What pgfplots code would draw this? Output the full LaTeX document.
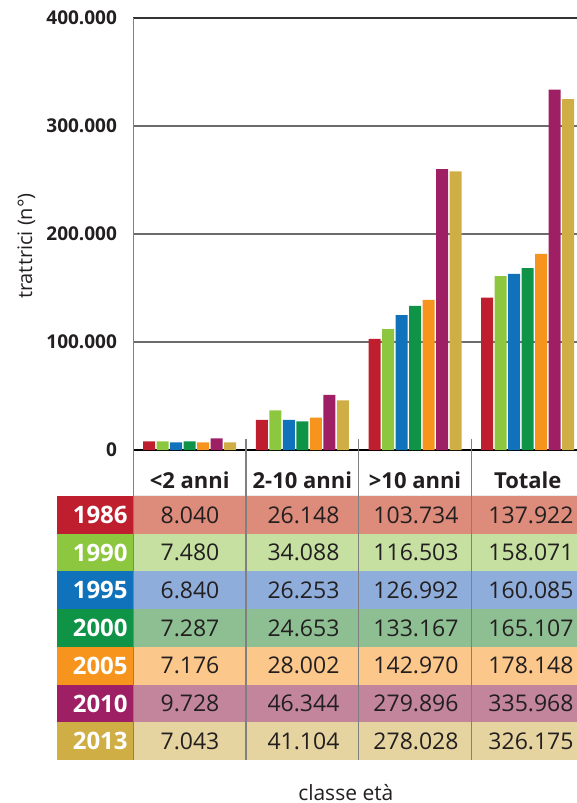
\documentclass[border=0pt]{standalone}
\usepackage{pgfplots}
\pgfplotsset{compat=1.18}
\usepackage{fontspec}
\setmainfont{Open Sans}
\definecolor{c86}{HTML}{BE1E2D}
\definecolor{c90}{HTML}{8DC63F}
\definecolor{c95}{HTML}{1072BA}
\definecolor{c00}{HTML}{0E9347}
\definecolor{c05}{HTML}{F7941D}
\definecolor{c10}{HTML}{9E1F63}
\definecolor{c13}{HTML}{CFAE45}
\definecolor{l86}{HTML}{DD8B7A}
\definecolor{l90}{HTML}{C5E0A0}
\definecolor{l95}{HTML}{8FADDB}
\definecolor{l00}{HTML}{8DBF92}
\definecolor{l05}{HTML}{FCC78B}
\definecolor{l10}{HTML}{C3859C}
\definecolor{l13}{HTML}{E6D4A0}
\definecolor{txt}{HTML}{231F20}
\begin{document}
\begin{tikzpicture}
\begin{axis}[
  at={(0,0)}, anchor=south west, scale only axis,
  width=221.85pt, height=216pt,
  xmin=-0.5, xmax=3.437, ymin=0, ymax=400000,
  ybar=0.75pt, bar width=6pt,
  xtick={0,1,2,3},
  xticklabels={{<2 anni},{2-10 anni},{>10 anni},{Totale}},
  ytick={0,100000,200000,300000,400000},
  yticklabels={0,100.000,200.000,300.000,400.000},
  scaled y ticks=false,
  axis x line*=bottom, axis y line*=left,
  x axis line style={black, line width=0.7pt},
  y axis line style={gray, line width=0.7pt},
  major tick length=0pt,
  ymajorgrids, grid style={gray!85!black, line width=0.7pt},
  yticklabel style={font=\bfseries\fontsize{9.5}{10}\selectfont, text=txt, anchor=east, inner sep=0pt, xshift=-8pt},
  xticklabel style={font=\bfseries\fontsize{11}{12}\selectfont, text=txt, anchor=center, inner sep=0pt, yshift=-15pt},
  ylabel={trattrici (n°)},
  ylabel style={at={(axis description cs:0,0.472)}, anchor=center, rotate=0, yshift=53.5pt, font=\fontsize{10}{11}\selectfont, text=txt},
  xlabel={classe età},
  xlabel style={at={(axis description cs:0.479,0)}, anchor=center, yshift=-171.5pt, font=\fontsize{10.5}{12}\selectfont, text=txt},
  clip=false,
]
\addplot[fill=c86, draw=none] coordinates {(0,8000) (1,28000) (2,103000) (3,141000)};
\addplot[fill=c90, draw=none] coordinates {(0,8000) (1,36600) (2,112000) (3,161000)};
\addplot[fill=c95, draw=none] coordinates {(0,7000) (1,28000) (2,125000) (3,163000)};
\addplot[fill=c00, draw=none] coordinates {(0,8000) (1,26500) (2,133500) (3,168500)};
\addplot[fill=c05, draw=none] coordinates {(0,7000) (1,30000) (2,139000) (3,181500)};
\addplot[fill=c10, draw=none] coordinates {(0,10800) (1,51000) (2,260000) (3,333700)};
\addplot[fill=c13, draw=none] coordinates {(0,7000) (1,46000) (2,258000) (3,325000)};
\draw[black!80, line width=0.7pt] (rel axis cs:0,1) -- (rel axis cs:1,1);
\end{axis}
\begin{scope}[x=0.5pt, y=-0.5pt, shift={(-66.65pt,225pt)}]
  % table rows
  \foreach \k/\lc/\cc/\yr/\a/\b/\c/\d in {
    0/l86/c86/1986/8.040/26.148/103.734/137.922,
    1/l90/c90/1990/7.480/34.088/116.503/158.071,
    2/l95/c95/1995/6.840/26.253/126.992/160.085,
    3/l00/c00/2000/7.287/24.653/133.167/165.107,
    4/l05/c05/2005/7.176/28.002/142.970/178.148,
    5/l10/c10/2010/9.728/46.344/279.896/335.968,
    6/l13/c13/2013/7.043/41.104/278.028/326.175}{
    \pgfmathsetmacro{\ytop}{496+37.714*\k}
    \pgfmathsetmacro{\ybot}{496+37.714*(\k+1)}
    \pgfmathsetmacro{\ymid}{496+37.714*(\k+0.5)}
    \fill[\lc] (133.3,\ytop) rectangle (577,\ybot);
    \fill[\cc] (57,\ytop) rectangle (133.3,\ybot);
    \node[anchor=east, inner sep=0pt, text=white, font=\bfseries\fontsize{12}{13}\selectfont] at (128,\ymid) {\yr};
    \node[inner sep=0pt, text=txt, font=\fontsize{11.5}{12}\selectfont] at (190,\ymid) {\a};
    \node[inner sep=0pt, text=txt, font=\fontsize{11.5}{12}\selectfont] at (303.5,\ymid) {\b};
    \node[inner sep=0pt, text=txt, font=\fontsize{11.5}{12}\selectfont] at (416,\ymid) {\c};
    \node[inner sep=0pt, text=txt, font=\fontsize{11.5}{12}\selectfont] at (531,\ymid) {\d};
  }
  \draw[white!85!gray, line width=0.5pt] (133.3,496) -- (577,496);
  \draw[gray, line width=0.7pt] (133.3,18) -- (133.3,760);
  \foreach \xx in {246,358.7,471.4}{
    \draw[gray, line width=0.7pt] (\xx,439) -- (\xx,760);
  }
  \pgfresetboundingbox
  \path[use as bounding box] (0,0) rectangle (577,803);
\end{scope}
\end{tikzpicture}
\end{document}
